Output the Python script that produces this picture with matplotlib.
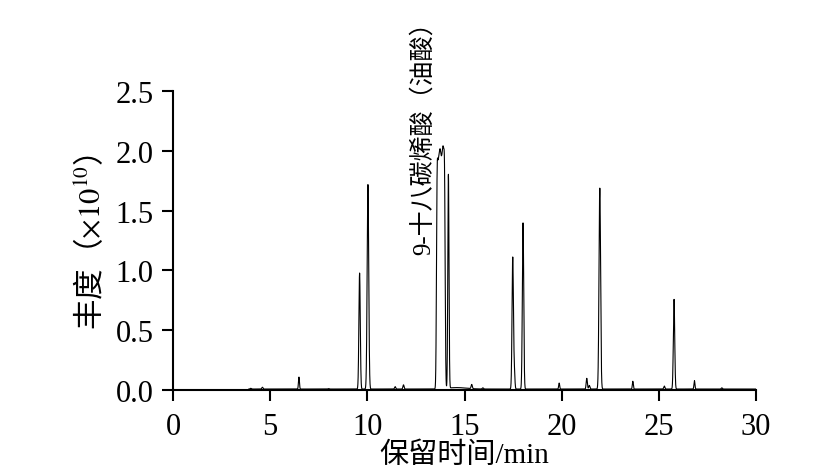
import numpy as np
import matplotlib
matplotlib.use("Agg")
import matplotlib.pyplot as plt

plt.rcParams['font.family'] = ['Liberation Serif', 'Noto Sans CJK SC', 'DejaVu Sans']
plt.rcParams['mathtext.fontset'] = 'stix'

# Chromatogram peaks (retention time in min, height in 1e10, width sigma in min)
peak_rt = [4.0, 4.6, 6.48, 8.0, 9.6, 10.03, 11.43, 11.86,
           13.58, 13.62, 13.66, 13.70, 13.74, 13.78, 13.82, 13.86, 13.90, 13.94, 13.98,
           14.17, 14.6, 15.37, 15.94, 17.48, 17.56, 18.01, 19.87, 21.29, 21.42, 21.96,
           23.66, 25.28, 25.78, 26.83, 28.24]
peak_height = [0.006, 0.015, 0.10, 0.004, 0.97, 1.71, 0.02, 0.035,
               1.25, 0.95, 1.05, 1.03, 1.10, 1.03, 1.03, 1.05, 1.12, 1.00, 1.25,
               1.79, 0.012, 0.035, 0.01, 1.10, 0.15, 1.39, 0.05, 0.09, 0.03, 1.68,
               0.065, 0.025, 0.75, 0.07, 0.01]
peak_sigma = [0.03, 0.03, 0.025, 0.03, 0.035, 0.04, 0.03, 0.03,
              0.03, 0.03, 0.03, 0.03, 0.03, 0.03, 0.03, 0.03, 0.03, 0.03, 0.03,
              0.03, 0.5, 0.03, 0.03, 0.035, 0.03, 0.035, 0.025, 0.03, 0.03, 0.04,
              0.025, 0.03, 0.035, 0.025, 0.03]
baseline_level = 0.008
run_start, run_end = 3.9, 30.0

x_ticks = [0, 5, 10, 15, 20, 25, 30]
y_ticks = [0.0, 0.5, 1.0, 1.5, 2.0, 2.5]
x_label = "保留时间/min"
y_label = "丰度（$\\times10^{10}$）"
peak_label = "9-十八碳烯酸（油酸）"

t = np.linspace(run_start, run_end, 8000)
signal = np.full_like(t, baseline_level)
for c, h, s in zip(peak_rt, peak_height, peak_sigma):
    signal += h * np.exp(-(t - c) ** 2 / (2 * s ** 2))

fig = plt.figure(figsize=(8.29, 4.77), dpi=100)
ax = fig.add_axes([0.2087, 0.1803, 0.7033, 0.6268])
ax.plot(t, signal, color='black', lw=0.8)

ax.set_xlim(0, 30)
ax.set_ylim(0, 2.5)
ax.set_xticks(x_ticks)
ax.set_xticklabels([str(v) for v in x_ticks])
ax.set_yticks(y_ticks)
ax.set_yticklabels([f"{v:.1f}" for v in y_ticks])
for side in ['top', 'right']:
    ax.spines[side].set_visible(False)
for side in ['left', 'bottom']:
    ax.spines[side].set_linewidth(1.5)
ax.tick_params(direction='out', length=8, width=1.5, labelsize=22)
ax.tick_params(axis='x', pad=7.5)
ax.tick_params(axis='y', pad=6)
ax.set_xlabel(x_label, fontsize=21, labelpad=1)
ax.set_ylabel(y_label, fontsize=22, labelpad=6,
              family=['Noto Sans CJK SC', 'Liberation Serif'])

ax.text(12.87, 1.14, peak_label, rotation=90, ha='center', va='bottom',
        fontsize=18, clip_on=False)

fig.savefig("out.png", dpi=100)
